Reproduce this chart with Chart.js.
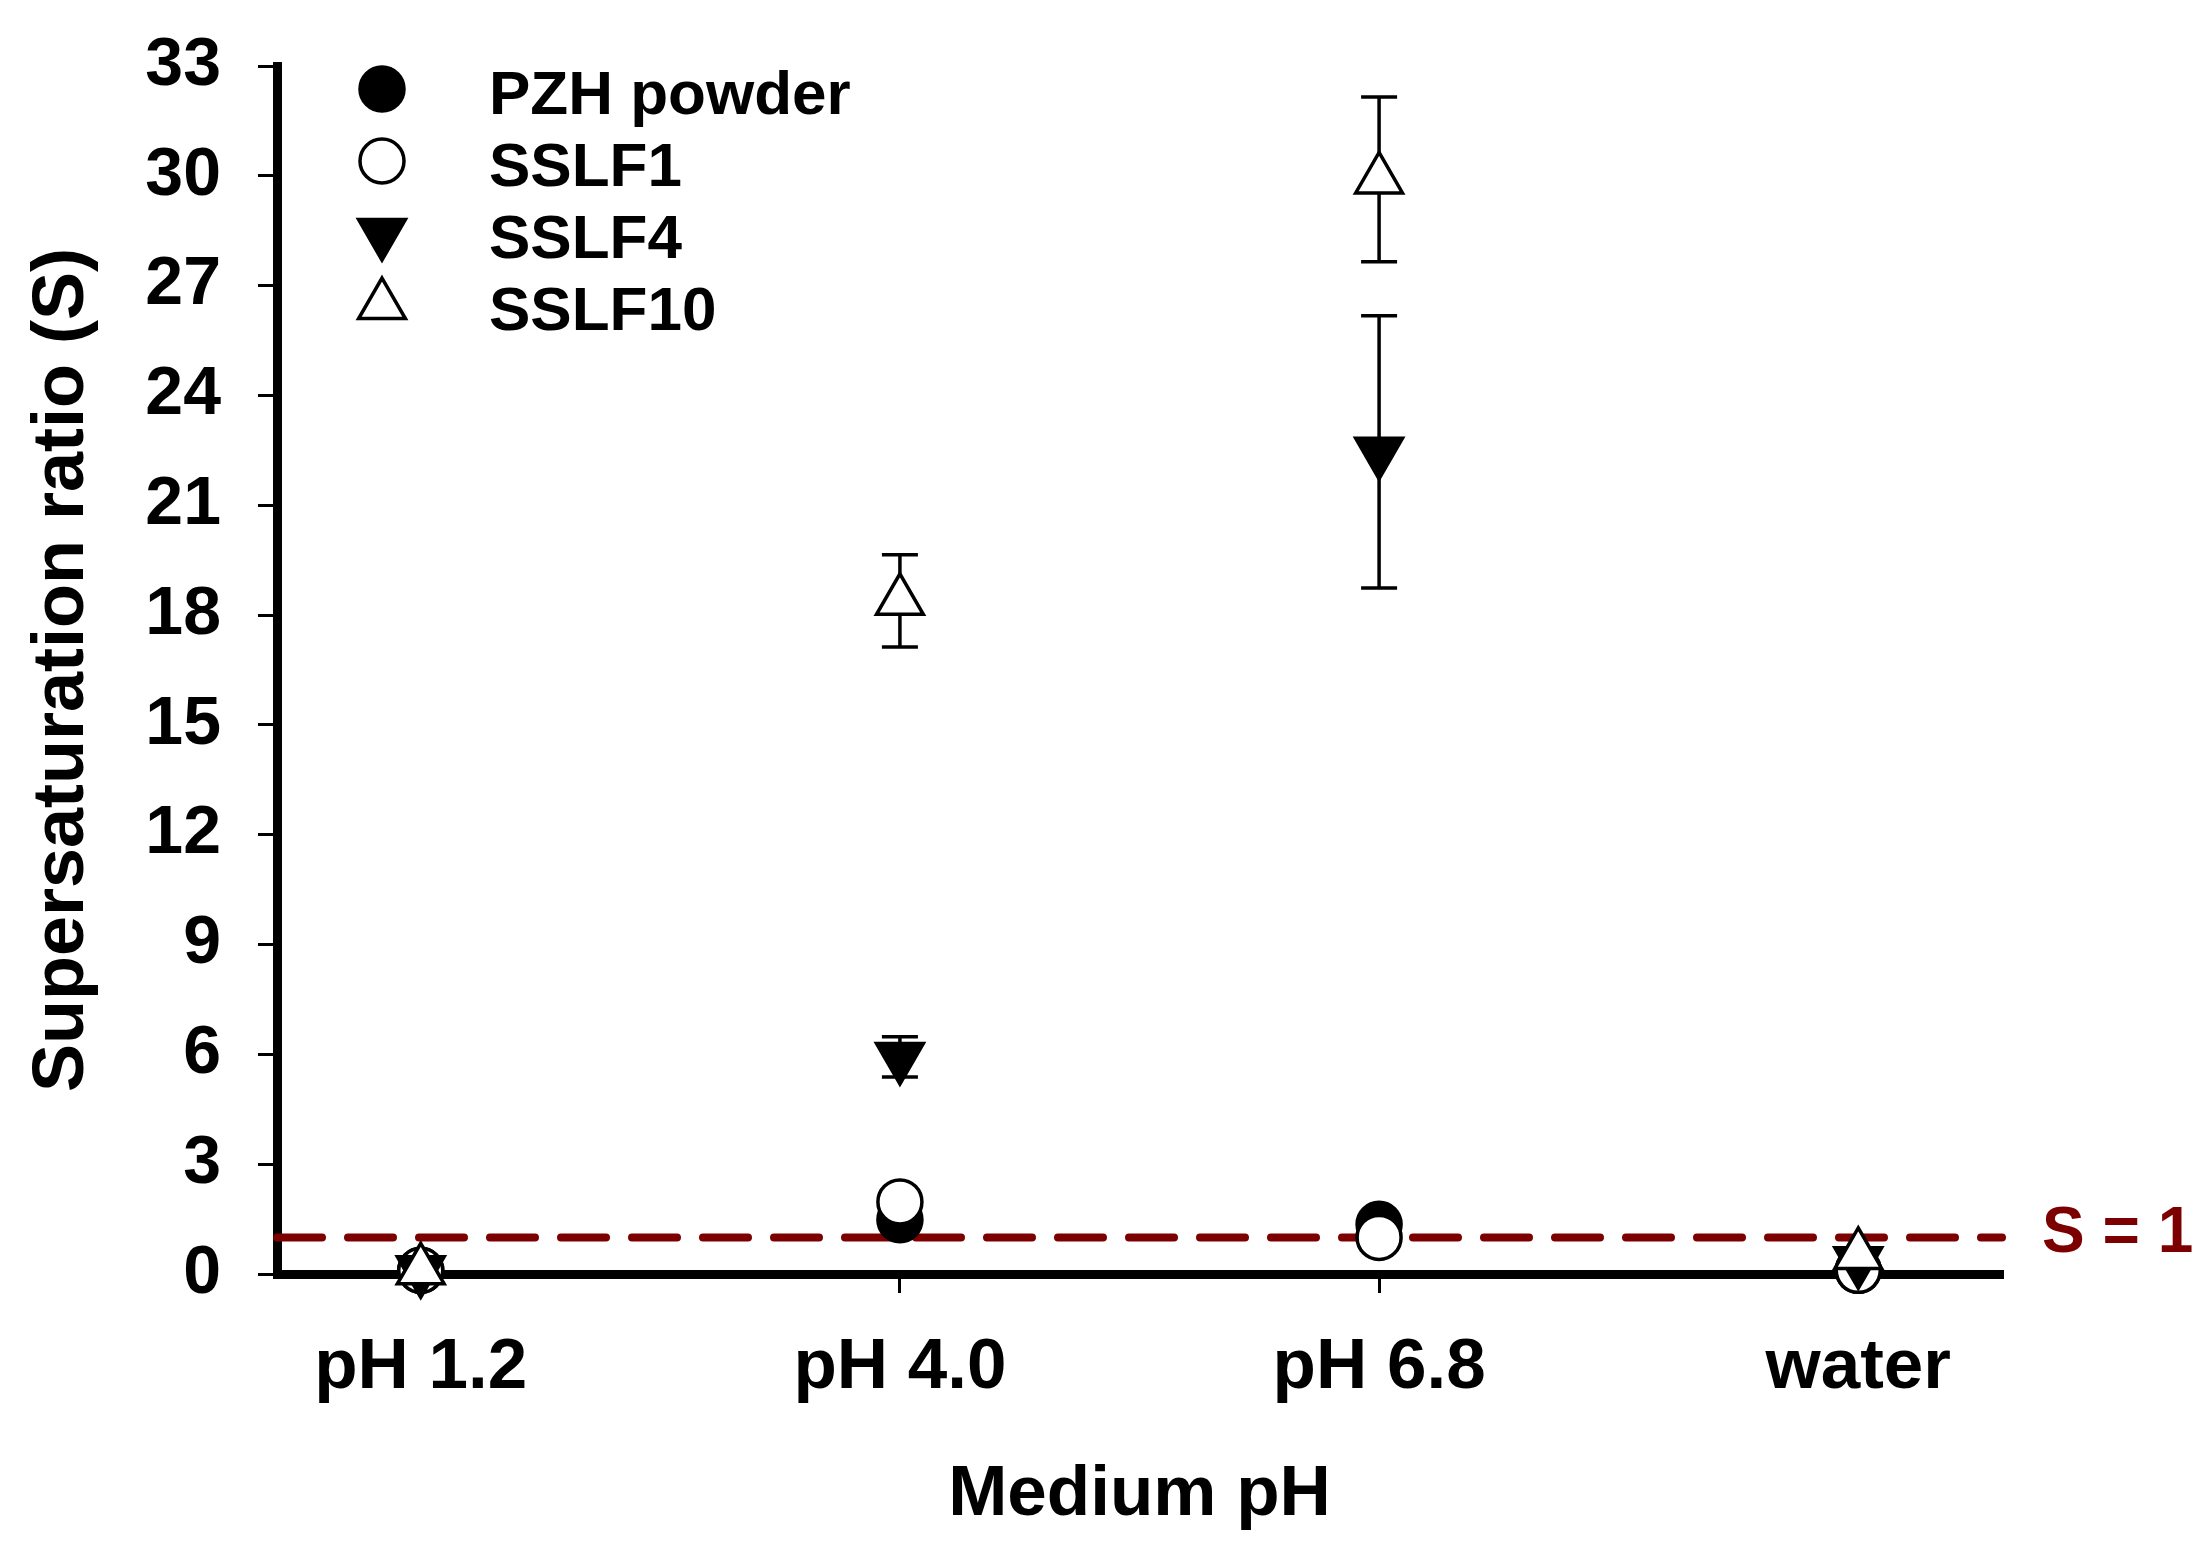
<!DOCTYPE html>
<html>
<head>
<meta charset="utf-8">
<script src="https://cdn.jsdelivr.net/npm/chart.js@4.4.1/dist/chart.umd.min.js"></script>
<style>
  html, body { margin: 0; padding: 0; background: #fff; }
  #wrap { width: 2208px; height: 1563px; }
</style>
</head>
<body>
<div id="wrap"><canvas id="c" width="2208" height="1563"></canvas></div>
<script>
// ---------------- DATA ----------------
const categories = ['pH 1.2', 'pH 4.0', 'pH 6.8', 'water'];
const seriesNames = ['PZH powder', 'SSLF1', 'SSLF4', 'SSLF10'];
const pzhPowder   = [0.10, 1.48, 1.36, 0.10];
const sslf1       = [0.10, 1.97, 1.00, 0.10];
const sslf4       = [0.10, 5.93, 22.46, 0.35];
const sslf10      = [0.10, 18.39, 29.90, 0.52];
const pzhPowderErr = [0, 0, 0, 0];
const sslf1Err     = [0, 0, 0, 0];
const sslf4Err     = [0, 0.55, 3.72, 0];
const sslf10Err    = [0, 1.26, 2.25, 0];
const yTickValues = [0, 3, 6, 9, 12, 15, 18, 21, 24, 27, 30, 33];
const refLineValue = 1;
const refLineLabel = 'S = 1';
const xAxisTitle = 'Medium pH';
const yAxisTitle = 'Supersaturation ratio (S)';

// ---------------- STYLE ----------------
const FONT = '"Liberation Sans", Arial, Helvetica, sans-serif';
const seriesValues = [pzhPowder, sslf1, sslf4, sslf10];
const seriesErrors = [pzhPowderErr, sslf1Err, sslf4Err, sslf10Err];
const seriesStyles = [
  { pointStyle: 'circle',   fill: '#000', rotation: 0,   radius: 22 },
  { pointStyle: 'circle',   fill: '#fff', rotation: 0,   radius: 22 },
  { pointStyle: 'triangle', fill: '#000', rotation: 180, radius: 27 },
  { pointStyle: 'triangle', fill: '#fff', rotation: 0,   radius: 27 }
];

const datasets = seriesNames.map((name, k) => ({
  type: 'scatter',
  label: name,
  data: seriesValues[k].map((v, i) => ({ x: i, y: v })),
  errors: seriesErrors[k],
  pointStyle: seriesStyles[k].pointStyle,
  pointRotation: seriesStyles[k].rotation,
  pointRadius: seriesStyles[k].radius,
  pointHoverRadius: seriesStyles[k].radius,
  pointBackgroundColor: seriesStyles[k].fill,
  pointBorderColor: '#000',
  pointBorderWidth: 3.5,
  showLine: false,
  clip: false,
  order: seriesNames.length - k
}));

datasets.push({
  type: 'line',
  label: refLineLabel,
  isRefLine: true,
  data: [{ x: -0.3, y: refLineValue }, { x: 3.3, y: refLineValue }],
  borderColor: '#7d0000',
  borderWidth: 8,
  borderDash: [45, 26],
  borderCapStyle: 'round',
  pointRadius: 0,
  pointHoverRadius: 0,
  fill: false,
  clip: false,
  order: 100
});

// error bars (drawn beneath the markers)
const errorBarPlugin = {
  id: 'errorBars',
  beforeDatasetsDraw(chart) {
    const ctx = chart.ctx;
    const xs = chart.scales.x, ys = chart.scales.y;
    ctx.save();
    ctx.strokeStyle = '#000';
    ctx.lineWidth = 3.5;
    ctx.lineCap = 'butt';
    chart.data.datasets.forEach(ds => {
      if (!ds.errors) return;
      ds.data.forEach((p, i) => {
        const e = ds.errors[i];
        if (!e) return;
        const x = xs.getPixelForValue(p.x);
        const yt = ys.getPixelForValue(p.y + e);
        const yb = ys.getPixelForValue(p.y - e);
        const hw = 18;
        ctx.beginPath();
        ctx.moveTo(x, yt); ctx.lineTo(x, yb);
        ctx.moveTo(x - hw, yt); ctx.lineTo(x + hw, yt);
        ctx.moveTo(x - hw, yb); ctx.lineTo(x + hw, yb);
        ctx.stroke();
      });
    });
    ctx.restore();
  }
};

function drawMarker(ctx, style, x, y) {
  ctx.save();
  ctx.fillStyle = style.fill;
  ctx.strokeStyle = '#000';
  ctx.lineWidth = 3.5;
  ctx.beginPath();
  const r = style.radius;
  if (style.pointStyle === 'circle') {
    ctx.arc(x, y, r, 0, Math.PI * 2);
  } else {
    let rad = style.rotation * Math.PI / 180;
    for (let j = 0; j < 3; j++) {
      const px = x + Math.sin(rad) * r, py = y - Math.cos(rad) * r;
      if (j === 0) ctx.moveTo(px, py); else ctx.lineTo(px, py);
      rad += 2 * Math.PI / 3;
    }
    ctx.closePath();
  }
  ctx.fill();
  ctx.stroke();
  ctx.restore();
}

const legendAndLabelPlugin = {
  id: 'legendAndLabel',
  afterDraw(chart) {
    const ctx = chart.ctx;
    const area = chart.chartArea;
    const ys = chart.scales.y;
    // legend
    const mx = area.left + 105, tx = area.left + 212;
    const y0 = area.top + 23, dy = 72;
    ctx.save();
    ctx.font = 'bold 62px ' + FONT;
    ctx.fillStyle = '#000';
    ctx.textAlign = 'left';
    ctx.textBaseline = 'alphabetic';
    chart.data.datasets.forEach((ds, k) => {
      if (ds.isRefLine) return;
      const y = y0 + k * dy;
      drawMarker(ctx, seriesStyles[k], mx, y);
      ctx.fillStyle = '#000';
      ctx.fillText(ds.label, tx, y + 3 + 0.36 * 62);
    });
    // reference line label
    ctx.font = 'bold 64px ' + FONT;
    ctx.fillStyle = '#7d0000';
    ctx.textBaseline = 'middle';
    ctx.fillText(refLineLabel, area.right + 40, ys.getPixelForValue(refLineValue) - 3);
    ctx.restore();
  }
};

const gridOpts = {
  display: true,
  drawOnChartArea: false,
  drawTicks: true,
  tickLength: 19,
  tickWidth: 3,
  tickColor: '#000',
  lineWidth: 3,
  color: '#000'
};

new Chart(document.getElementById('c'), {
  type: 'scatter',
  data: { datasets },
  options: {
    responsive: false,
    devicePixelRatio: 1,
    animation: false,
    events: [],
    layout: { padding: { top: 66, right: 206, left: 0, bottom: 0 } },
    plugins: {
      legend: { display: false },
      tooltip: { enabled: false },
      title: { display: false }
    },
    scales: {
      x: {
        type: 'linear',
        min: -0.3,
        max: 3.3,
        afterBuildTicks: s => { s.ticks = categories.map((c, i) => ({ value: i })); },
        afterFit: s => { s.height = 289; },
        ticks: {
          callback: v => categories[v] ?? '',
          font: { family: FONT, size: 71, weight: 'bold', lineHeight: 1 },
          color: '#000',
          padding: 40,
          maxRotation: 0,
          autoSkip: false
        },
        grid: gridOpts,
        border: { display: true, width: 9, color: '#000' },
        title: {
          display: true,
          text: xAxisTitle,
          color: '#000',
          font: { family: FONT, size: 71, weight: 'bold', lineHeight: 1 },
          padding: { top: 0, bottom: 32 }
        }
      },
      y: {
        type: 'linear',
        min: 0,
        max: 33,
        afterBuildTicks: s => { s.ticks = yTickValues.map(v => ({ value: v })); },
        afterFit: s => { s.width = 277; },
        ticks: {
          font: { family: FONT, size: 68, weight: 'bold', lineHeight: 0.3 },
          color: '#000',
          padding: 37
        },
        grid: gridOpts,
        border: { display: true, width: 9, color: '#000' },
        title: {
          display: true,
          text: yAxisTitle,
          color: '#000',
          font: { family: FONT, size: 72, weight: 'bold', lineHeight: 1 },
          padding: { top: 27, bottom: 0 }
        }
      }
    }
  },
  plugins: [errorBarPlugin, legendAndLabelPlugin]
});
</script>
</body>
</html>
